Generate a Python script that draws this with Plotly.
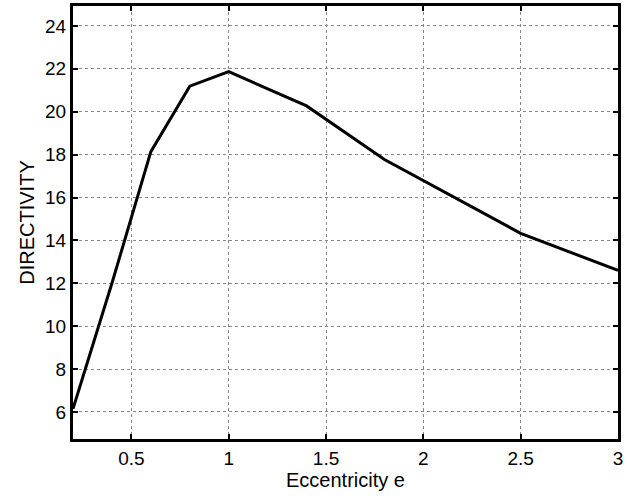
import plotly.graph_objects as go

ecc = [0.2, 0.4, 0.6, 0.8, 1.0, 1.4, 1.8, 2.5, 3.0]
directivity = [6.15, 12.0, 18.14, 21.19, 21.87, 20.27, 17.77, 14.33, 12.6]
x_ticks = [0.5, 1, 1.5, 2, 2.5, 3]
x_tick_labels = ["0.5", "1", "1.5", "2", "2.5", "3"]
y_ticks = [6, 8, 10, 12, 14, 16, 18, 20, 22, 24]

fig = go.Figure()
fig.add_trace(go.Scatter(x=ecc, y=directivity, mode="lines",
                         line=dict(color="black", width=3), showlegend=False))

axis_common = dict(
    showline=True, linecolor="black", linewidth=3, mirror="ticks",
    ticks="inside", ticklen=5, tickwidth=2, tickcolor="black",
    showgrid=True, gridcolor="#888888", griddash="dot", gridwidth=1,
    zeroline=False, automargin=False,
    tickfont=dict(family="Liberation Sans, Arial", size=19, color="black"),
)

fig.update_layout(
    width=630, height=498,
    margin=dict(l=73, r=12, t=6, b=59),
    paper_bgcolor="white", plot_bgcolor="white",
    font=dict(family="Liberation Sans, Arial", size=19, color="black"),
    xaxis=dict(range=[0.2, 3.0], tickvals=x_ticks, ticktext=x_tick_labels,
               title=dict(text="Eccentricity e", standoff=2,
                          font=dict(size=20)), **axis_common),
    yaxis=dict(range=[4.74, 24.93], tickvals=y_ticks,
               title=dict(text="DIRECTIVITY", standoff=6,
                          font=dict(size=20)), **axis_common),
)

fig.write_html(
    "out.html",
    config={"displayModeBar": False},
    post_script="document.body.style.margin='0';document.body.style.padding='0';document.body.style.overflow='hidden';",
)
